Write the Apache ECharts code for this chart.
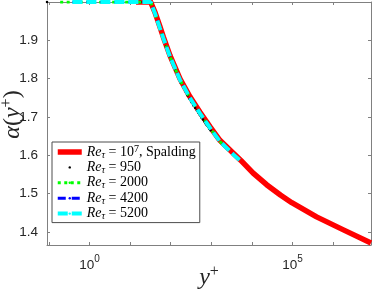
<!DOCTYPE html>
<html>
<head>
<meta charset="utf-8">
<script src="https://cdn.jsdelivr.net/npm/echarts@6/dist/echarts.min.js"></script>
<style>
html,body{margin:0;padding:0;background:#fff;}
#c{width:374px;height:291px;}
</style>
</head>
<body>
<div id="c"></div>
<script>
// ---- data ----
const seriesNames = ['Re_tau = 1e7, Spalding', 'Re_tau = 950', 'Re_tau = 2000', 'Re_tau = 4200', 'Re_tau = 5200'];
const legendLabels = [
  '{i|Re}{sub|τ}{n| = 10}{sup|7}{n|, Spalding}',
  '{i|Re}{sub|τ}{n| = 950}',
  '{i|Re}{sub|τ}{n| = 2000}',
  '{i|Re}{sub|τ}{n| = 4200}',
  '{i|Re}{sub|τ}{n| = 5200}'
];

const spaldingYPlus = [14, 32, 41, 54, 66, 96, 170, 295, 525, 930, 1620, 3470, 5250, 10700, 22900, 50000, 95500, 389000, 1780000, 8500000];
const spaldingAlpha = [2.0, 2.0, 1.973, 1.936, 1.908, 1.860, 1.799, 1.753, 1.712, 1.674, 1.639, 1.605, 1.587, 1.553, 1.523, 1.496, 1.476, 1.439, 1.405, 1.371];

const re950YPlus = [0.09, 6.7, 12, 18, 25, 32, 40, 50, 62, 76, 92, 110, 130, 152, 176, 202, 230, 260, 292, 326, 362, 400, 440, 482, 526, 572, 620, 670, 722, 776, 832, 890, 950];
const re950Alpha = [2.0, 2.0, 2.0, 2.0, 2.0, 1.999, 1.970, 1.941, 1.912, 1.884, 1.859, 1.839, 1.821, 1.805, 1.789, 1.778, 1.767, 1.756, 1.747, 1.738, 1.730, 1.723, 1.717, 1.710, 1.704, 1.698, 1.693, 1.688, 1.683, 1.678, 1.674, 1.669, 1.665];

const re2000YPlus = [0.19, 0.5, 1, 3, 10, 20, 32, 41, 54, 66, 96, 170, 295, 525, 930, 1620, 2000];
const re2000Alpha = [2.0, 2.0, 2.0, 2.0, 2.0, 2.0, 2.0, 1.970, 1.932, 1.905, 1.857, 1.796, 1.750, 1.709, 1.671, 1.636, 1.627];

const re4200YPlus = [0.38, 1, 3, 10, 20, 32, 41, 54, 66, 96, 170, 295, 525, 930, 1620, 3470, 4200];
const re4200Alpha = [2.0, 2.0, 2.0, 2.0, 2.0, 2.0, 1.970, 1.932, 1.905, 1.857, 1.796, 1.750, 1.709, 1.671, 1.636, 1.602, 1.594];

const re5200YPlus = [0.38, 1, 3, 10, 20, 32, 41, 54, 66, 96, 170, 295, 525, 930, 1620, 3470, 5200];
const re5200Alpha = [2.0, 2.0, 2.0, 2.0, 2.0, 2.0, 1.970, 1.932, 1.905, 1.857, 1.796, 1.750, 1.709, 1.671, 1.636, 1.602, 1.585];

const xTickValues = [0.1, 1, 10, 100, 1000, 10000, 100000, 1000000];
const xLabelValues = [1, 100000];
const yTickValues = [1.4, 1.5, 1.6, 1.7, 1.8, 1.9];

// ---- chart ----
function pairs(xs, ys) { return xs.map((x, i) => [x, ys[i]]); }

const axisColor = '#808080';
const textColor = '#262626';
const sansFont = 'Liberation Sans';
const serifFont = 'Liberation Serif';

const chart = echarts.init(document.getElementById('c'), null, {renderer: 'canvas'});

const xCommon = {
  type: 'log', logBase: 10, min: 0.09, max: 8.5e6,
  splitLine: {show: false},
  axisLine: {show: true, lineStyle: {color: axisColor, width: 1}},
  axisTick: {show: true, inside: true, length: 3, customValues: xTickValues, lineStyle: {color: axisColor}},
  minorTick: {show: false},
  nameMoveOverlap: false
};
const yCommon = {
  type: 'value', min: 1.3655, max: 2.0,
  splitLine: {show: false},
  axisLine: {show: true, lineStyle: {color: axisColor, width: 1}},
  axisTick: {show: true, inside: true, length: 3, customValues: yTickValues, lineStyle: {color: axisColor}},
  nameMoveOverlap: false
};

const nameRich = {
  i: {fontFamily: serifFont, fontStyle: 'italic', fontSize: 24, color: textColor, lineHeight: 27},
  n: {fontFamily: serifFont, fontSize: 24, color: textColor, lineHeight: 27},
  s: {fontFamily: serifFont, fontSize: 16, color: textColor, lineHeight: 16, verticalAlign: 'top'}
};

const option = {
  animation: false,
  backgroundColor: '#fff',
  grid: {left: 47, top: 2, width: 324, height: 243, containLabel: false, outerBoundsMode: 'none'},
  xAxis: [
    Object.assign({}, xCommon, {
      position: 'bottom',
      axisLabel: {
        customValues: xLabelValues, margin: 9,
        formatter: v => '{b|10}{s|' + Math.round(Math.log10(v)) + '}',
        rich: {
          b: {fontFamily: sansFont, fontSize: 13.5, color: textColor, lineHeight: 18, verticalAlign: 'bottom'},
          s: {fontFamily: sansFont, fontSize: 10, color: textColor, lineHeight: 18, verticalAlign: 'top'}
        }
      },
      name: '{i|y}{s|+}', nameLocation: 'middle', nameGap: 19,
      nameTextStyle: {rich: nameRich}
    }),
    Object.assign({}, xCommon, {position: 'top', axisLabel: {show: false}})
  ],
  yAxis: [
    Object.assign({}, yCommon, {
      position: 'left',
      axisLabel: {customValues: yTickValues, margin: 9, fontFamily: sansFont, fontSize: 13.5, color: textColor,
        formatter: v => v.toFixed(1)},
      name: '{i|α}{n|(}{i|y}{s|+}{n|)}', nameLocation: 'middle', nameRotate: 90, nameGap: 21,
      nameTextStyle: {padding: [0, 0, 0, 18], rich: nameRich}
    }),
    Object.assign({}, yCommon, {position: 'right', axisLabel: {show: false}})
  ],
  legend: {
    orient: 'vertical', left: 52, top: 142,
    padding: [2, 4, 1, 3], itemGap: 0.4, itemWidth: 24, itemHeight: 3,
    backgroundColor: '#fff', borderColor: '#4d4d4d', borderWidth: 1,
    lineStyle: {width: 'inherit', type: 'inherit'},
    data: seriesNames,
    formatter: name => legendLabels[seriesNames.indexOf(name)],
    textStyle: {
      color: '#000',
      rich: {
        i: {fontFamily: serifFont, fontStyle: 'italic', fontSize: 14, color: '#000', lineHeight: 16},
        n: {fontFamily: serifFont, fontSize: 14, color: '#000', lineHeight: 16},
        sub: {fontFamily: serifFont, fontStyle: 'italic', fontSize: 10, color: '#000', lineHeight: 10, verticalAlign: 'bottom'},
        sup: {fontFamily: serifFont, fontSize: 10, color: '#000', lineHeight: 10, verticalAlign: 'top'}
      }
    }
  },
  series: [
    {name: seriesNames[0], type: 'line', data: pairs(spaldingYPlus, spaldingAlpha), symbol: 'none', showSymbol: false,
     lineStyle: {color: '#ff0000', width: 5.5, join: 'round'}, itemStyle: {color: '#ff0000'}, z: 2},
    {name: seriesNames[1], type: 'line', data: pairs(re950YPlus, re950Alpha), symbol: 'circle', symbolSize: 2.5, showSymbol: true,
     lineStyle: {color: '#000', width: 0, opacity: 0}, itemStyle: {color: '#000'}, z: 3},
    {name: seriesNames[2], type: 'line', data: pairs(re2000YPlus, re2000Alpha), symbol: 'none', showSymbol: false,
     lineStyle: {color: '#00ff00', width: 3, type: [3, 3.5]}, itemStyle: {color: '#00ff00'}, z: 4},
    {name: seriesNames[3], type: 'line', data: pairs(re4200YPlus, re4200Alpha), symbol: 'none', showSymbol: false,
     lineStyle: {color: '#0000ff', width: 3, type: [8, 6]}, itemStyle: {color: '#0000ff'}, z: 5},
    {name: seriesNames[4], type: 'line', data: pairs(re5200YPlus, re5200Alpha), symbol: 'none', showSymbol: false,
     lineStyle: {color: '#00ffff', width: 4, type: [10, 4]}, itemStyle: {color: '#00ffff'}, z: 6}
  ]
};
chart.setOption(option);
</script>
</body>
</html>
